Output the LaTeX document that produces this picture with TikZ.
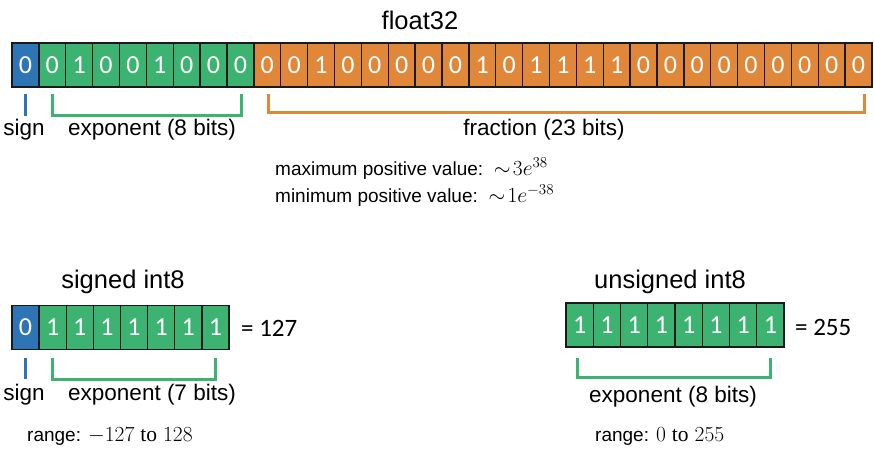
\RequirePackage{fix-cm}
\documentclass[tikz,border=0pt]{standalone}
\usepackage{fontspec}
\setmainfont{Liberation Sans}
\newfontfamily\calfont{Carlito}
\newfontfamily\serfont{Liberation Serif}
\usetikzlibrary{calc}
\definecolor{sgnblue}{HTML}{2E75B6}
\definecolor{expgreen}{HTML}{3CB371}
\definecolor{fracorange}{HTML}{E0873A}
\definecolor{cellborder}{HTML}{1A1A1A}
\newcommand{\bigmath}[1]{{\fontsize{21.5}{22}\selectfont #1}}
\tikzset{
  bitcell/.style={draw=cellborder, line width=1.3pt, minimum width=#1, minimum height=44pt,
    inner sep=0pt, text=white, font=\calfont\fontsize{26}{26}\selectfont},
  bitcell/.default=26.875pt,
  title/.style={font=\fontsize{25.5}{26}\selectfont, inner sep=0pt},
  label/.style={font=\fontsize{22.5}{24}\selectfont, inner sep=0pt},
  small/.style={font=\fontsize{19}{21}\selectfont, inner sep=0pt, anchor=west},
  eqtext/.style={font=\calfont\fontsize{25}{26}\selectfont, inner sep=0pt, anchor=west},
  signtick/.style={draw=sgnblue, line width=2.8pt},
  expbracket/.style={draw=expgreen, line width=2.8pt, line join=miter},
  fracbracket/.style={draw=fracorange, line width=2.6pt, line join=miter},
}
\begin{document}
\begin{tikzpicture}[x=1pt, y=-1pt]
\useasboundingbox (0,0) rectangle (874,448);

% ---------- float32 ----------
\node[title] (ftitle) at (420,20) {float32};
\foreach \b [count=\i from 0] in {0}
  \node[bitcell, fill=sgnblue] (f\i) at ({12+26.875*(\i+0.5)},65) {\b};
\foreach \b [count=\i from 1] in {0,1,0,0,1,0,0,0}
  \node[bitcell, fill=expgreen] (f\i) at ({12+26.875*(\i+0.5)},65) {\b};
\foreach \b [count=\i from 9] in {0,0,1,0,0,0,0,0,1,0,1,1,1,1,0,0,0,0,0,0,0,0,0}
  \node[bitcell, fill=fracorange] (f\i) at ({12+26.875*(\i+0.5)},65) {\b};

\draw[signtick] ($(f0.south)+(0,6)$) -- ($(f0.south)+(0,28)$);
\draw[expbracket] ($(f1.south)+(0,6)$) -- ($(f1.south)+(0,28)$) -| ($(f8.south)+(1,6)$);
\draw[fracbracket] ($(f9.south)+(1,6)$) -- ($(f9.south)+(1,25)$) -| ($(f31.south)+(6,6)$);

\node[label] (fsign) at (24,130) {sign};
\node[label] (fexp) at (152,130) {exponent (8 bits)};
\node[label] (ffrac) at (544,130) {fraction (23 bits)};

\node[small, align=left] (fvals) at (275,182)
  {maximum positive value:\ \ \bigmath{$\sim\!3e^{38}$}\\[4pt]
   minimum positive value:\ \ \bigmath{$\sim\!1e^{-38}$}};

% ---------- signed int8 ----------
\node[title] (stitle) at (123,282) {signed int8};
\foreach \b [count=\i from 0] in {0}
  \node[bitcell=27.125pt, fill=sgnblue] (s\i) at ({12+27.125*(\i+0.5)},327.5) {\b};
\foreach \b [count=\i from 1] in {1,1,1,1,1,1,1}
  \node[bitcell=27.125pt, fill=expgreen] (s\i) at ({12+27.125*(\i+0.5)},327.5) {\b};
\node[eqtext] (sval) at (241,328) {= 127};

\draw[signtick] ($(s0.south)+(0,8)$) -- ($(s0.south)+(0,29)$);
\draw[expbracket] ($(s1.south)+(0,8)$) -- ($(s1.south)+(0,29)$) -| ($(s7.south)+(0,8)$);

\node[label] (ssign) at (24,395) {sign};
\node[label] (sexp) at (152,395) {exponent (7 bits)};
\node[small] (srange) at (27,437) {range: \bigmath{$-127$ {\serfont to} $128$}};

% ---------- unsigned int8 ----------
\node[title] (utitle) at (670,282) {unsigned int8};
\foreach \b [count=\i from 0] in {1,1,1,1,1,1,1,1}
  \node[bitcell=27.25pt, fill=expgreen] (u\i) at ({566+27.25*(\i+0.5)},325) {\b};
\node[eqtext] (uval) at (795,327) {= 255};

\draw[expbracket] ($(u0.south)+(-2,10)$) -- ($(u0.south)+(-2,30)$) -| ($(u7.south)+(0,10)$);

\node[label] (uexp) at (673,397) {exponent (8 bits)};
\node[small] (urange) at (595,437) {range: \bigmath{$0$ {\serfont to} $255$}};
\end{tikzpicture}
\end{document}
